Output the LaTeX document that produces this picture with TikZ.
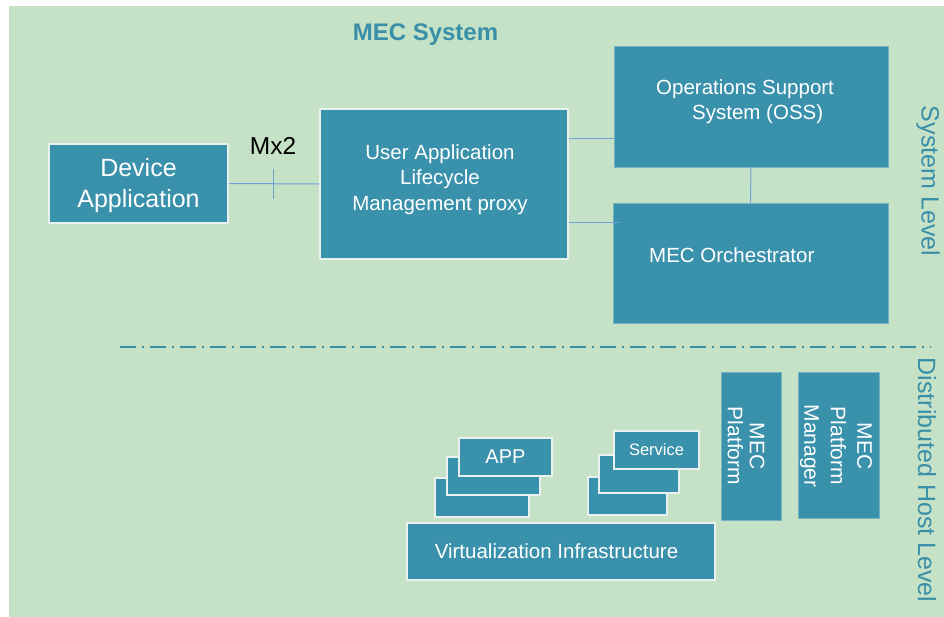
\documentclass[tikz,border=0pt]{standalone}
\usepackage{fontspec}
\setmainfont{Liberation Sans}
\definecolor{boxc}{RGB}{58,145,171}
\definecolor{bgc}{RGB}{197,226,199}
\definecolor{tealtxt}{RGB}{58,143,168}
\definecolor{linec}{RGB}{112,163,212}
\definecolor{edgec}{RGB}{232,240,240}
\tikzset{
  box/.style={fill=boxc, draw=edgec, line width=1.6pt, inner sep=0pt, text=white},
  plainbox/.style={fill=boxc, draw=boxc!70!white, line width=0.6pt, inner sep=0pt, text=white},
  conn/.style={draw=linec, line width=1pt},
  lbl/.style={inner sep=0pt, text=white},
  sidelbl/.style={inner sep=0pt, text=tealtxt, rotate=-90, font=\fontsize{25}{30}\selectfont},
}
\begin{document}
\begin{tikzpicture}[x=1pt,y=-1pt]
\useasboundingbox (0,0) rectangle (944,617);
\fill[bgc] (9,6) rectangle (944,617);

% title
\node[inner sep=0pt, anchor=base, text=tealtxt, font=\fontsize{24}{28}\selectfont\bfseries] (title) at (425.5,41) {MEC System};

% system level boxes
\node[box, minimum width=179pt, minimum height=79pt] (dev) at (138.5,183.5) {};
\node[lbl, align=center, font=\fontsize{25}{31}\selectfont] (devt) at (138.5,186) {Device\\Application};
\node[box, minimum width=248pt, minimum height=150pt] (ualm) at (444,184) {};
\node[lbl, align=center, font=\fontsize{20.5}{25.5}\selectfont] (ualmt) at (440,179.5) {User Application\\Lifecycle\\Management proxy};
\node[plainbox, minimum width=274pt, minimum height=121pt] (oss) at (751,106.5) {};
\node[lbl, anchor=base west, font=\fontsize{20.5}{24}\selectfont] (osst1) at (656,95) {Operations Support};
\node[lbl, anchor=base west, font=\fontsize{20.5}{24}\selectfont] (osst2) at (692,120) {System (OSS)};
\node[plainbox, minimum width=275pt, minimum height=120pt] (orch) at (750.5,263) {};
\node[lbl, anchor=base west, font=\fontsize{20.5}{24}\selectfont] (orcht) at (649,263) {MEC Orchestrator};

% Mx2 label and connectors
\node[inner sep=0pt, anchor=base, text=black, font=\fontsize{24.5}{28}\selectfont] (mx2) at (273,155) {Mx2};
\coordinate (tk1) at (273,169);
\coordinate (tk2) at (273,199);
\draw[conn] (dev.east) -- (ualm.west);
\draw[conn] (tk1) -- (tk2);
\draw[conn] ([yshift=45pt]ualm.east) -- ([yshift=45pt]ualm.east -| oss.west);
\draw[conn] ([yshift=-39pt]ualm.east) -- ([yshift=-39pt,xshift=6pt]ualm.east -| orch.west);
\draw[conn] (oss.south) -- (orch.north);

\node[sidelbl] (syslvl) at (928,181) {System Level};

% divider
\coordinate (dl1) at (120,347);
\coordinate (dl2) at (931,347);
\draw[tealtxt, line width=2pt, dash pattern=on 16pt off 6pt on 2pt off 6pt] (dl1) -- (dl2);

\node[sidelbl] (hostlvl) at (927,480) {Distributed Host Level};

% distributed host boxes
\node[plainbox, minimum width=60pt, minimum height=148pt] (mecp) at (751,446) {};
\node[lbl, rotate=-90, align=center, font=\fontsize{21}{22}\selectfont] (mecpt) at (746,446) {MEC\\Platform};
\node[plainbox, minimum width=81pt, minimum height=146pt] (mecpm) at (838.5,445) {};
\node[lbl, rotate=-90, align=center, font=\fontsize{21}{26.5}\selectfont] (mecpmt) at (836,446) {MEC\\Platform\\Manager};

\node[box, minimum width=94pt, minimum height=39pt] (app3) at (482,497.5) {};
\node[box, minimum width=93pt, minimum height=38pt] (app2) at (493.5,476) {};
\node[box, minimum width=93pt, minimum height=38pt, font=\fontsize{20}{24}\selectfont] (app1) at (505.5,457) {APP};

\node[box, minimum width=79pt, minimum height=38pt] (svc3) at (627.5,496) {};
\node[box, minimum width=80pt, minimum height=38pt] (svc2) at (639,474) {};
\node[box, minimum width=85pt, minimum height=38pt, font=\fontsize{16.5}{20}\selectfont] (svc1) at (656.5,450) {Service};

\node[box, minimum width=308pt, minimum height=57pt] (vi) at (561,551.5) {};
\node[lbl, font=\fontsize{20.5}{24}\selectfont] (vit) at (556.5,551.5) {Virtualization Infrastructure};
\end{tikzpicture}
\end{document}
